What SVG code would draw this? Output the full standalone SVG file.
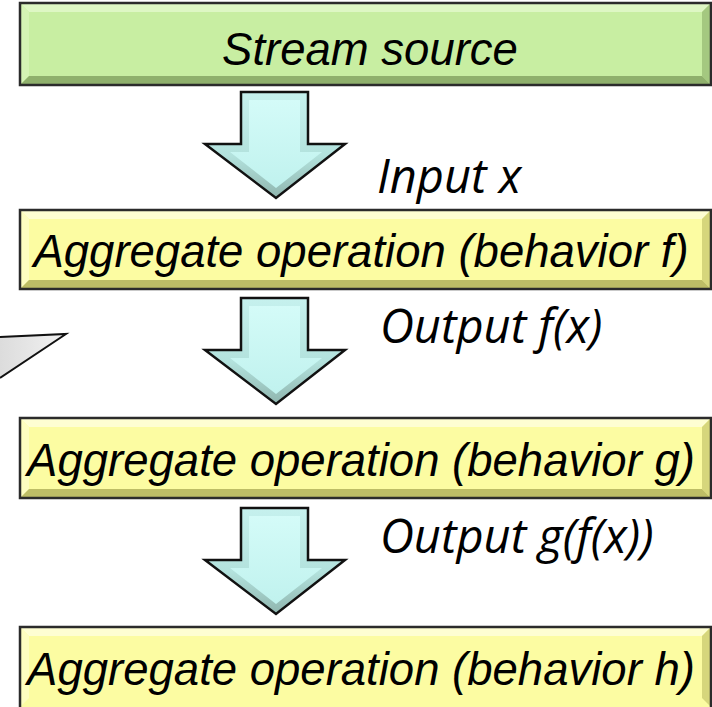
<svg xmlns="http://www.w3.org/2000/svg" width="712" height="707" viewBox="0 0 712 707">
<style>
.frame{fill:none;stroke:#2b2b2b;stroke-width:2.5}
.g-face{fill:#c8eea2}.g-top{fill:#def7c4}.g-left{fill:#d4f3b4}.g-right{fill:#a4c880}.g-bot{fill:#8fb06c}
.y-face{fill:#fcfca2}.y-top{fill:#fefed2}.y-left{fill:#fdfdc0}.y-right{fill:#d6d67c}.y-bot{fill:#bdbd66}
.btxt{font-family:"Liberation Sans",Arial,sans-serif;font-style:italic;font-size:45.5px;fill:#000;text-anchor:middle}
.ltxt{font-family:"Open Sans","Noto Sans",sans-serif;font-style:italic;font-size:47px;fill:#000}
.arr-out{fill:url(#arro);stroke:#111;stroke-width:2.5;stroke-linejoin:miter}
.arr-in{fill:url(#arrg)}
</style>
<defs>
<linearGradient id="arrg" x1="0" y1="0" x2="0" y2="1">
<stop offset="0" stop-color="#d4fbf8"/>
<stop offset="1" stop-color="#c0f2ee"/>
</linearGradient>
<linearGradient id="arro" x1="0" y1="0" x2="0" y2="1">
<stop offset="0" stop-color="#c6f1ee"/>
<stop offset="0.6" stop-color="#b3e2dd"/>
<stop offset="1" stop-color="#8fb5ae"/>
</linearGradient>
<linearGradient id="callg" x1="1" y1="0" x2="0" y2="0">
<stop offset="0" stop-color="#f2f2f2"/>
<stop offset="1" stop-color="#dcdcdc"/>
</linearGradient>
<g id="arrow">
<polygon class="arr-out" points="241,0 308,0 308,52 345,52 276,106 205,52 241,52"/>
<polygon class="arr-in" points="249,8 300,8 300,60 322,60 276,96 230,60 249,60"/>
</g>
</defs>

<g id="callout">
<polygon points="0,337 66,334 0,378" fill="url(#callg)"/>
<polyline points="0,337 66,334 0,378" fill="none" stroke="#111" stroke-width="2"/>
</g>

<g id="stream-source">
<rect x="20" y="3" width="691" height="82" class="g-face"/>
<polygon class="g-top" points="20,3 711,3 702,12 29,12"/>
<polygon class="g-left" points="20,3 29,12 29,76 20,85"/>
<polygon class="g-right" points="711,3 711,85 702,76 702,12"/>
<polygon class="g-bot" points="20,85 29,76 702,76 711,85"/>
<rect x="20" y="3" width="691" height="82" class="frame"/>
<text x="370" y="65" class="btxt">Stream source</text>
</g>

<g id="op-f">
<rect x="20" y="210" width="691" height="79" class="y-face"/>
<polygon class="y-top" points="20,210 711,210 702,219 29,219"/>
<polygon class="y-left" points="20,210 29,219 29,280 20,289"/>
<polygon class="y-right" points="711,210 711,289 702,280 702,219"/>
<polygon class="y-bot" points="20,289 29,280 702,280 711,289"/>
<rect x="20" y="210" width="691" height="79" class="frame"/>
<text x="361" y="267" class="btxt">Aggregate operation (behavior f)</text>
</g>

<g id="op-g">
<rect x="20" y="418" width="691" height="80" class="y-face"/>
<polygon class="y-top" points="20,418 711,418 702,427 29,427"/>
<polygon class="y-left" points="20,418 29,427 29,489 20,498"/>
<polygon class="y-right" points="711,418 711,498 702,489 702,427"/>
<polygon class="y-bot" points="20,498 29,489 702,489 711,498"/>
<rect x="20" y="418" width="691" height="80" class="frame"/>
<text x="361" y="476" class="btxt">Aggregate operation (behavior g)</text>
</g>

<g id="op-h">
<rect x="20" y="627" width="691" height="80" class="y-face"/>
<polygon class="y-top" points="20,627 711,627 702,636 29,636"/>
<polygon class="y-left" points="20,627 29,636 29,698 20,707"/>
<polygon class="y-right" points="711,627 711,707 702,698 702,636"/>
<rect x="20" y="627" width="691" height="82" class="frame"/>
<text x="361" y="685" class="btxt">Aggregate operation (behavior h)</text>
</g>

<g id="connectors">
<use href="#arrow" transform="translate(0,92)"/>
<use href="#arrow" transform="translate(0,298)"/>
<use href="#arrow" transform="translate(0,508)"/>
<text x="377" y="193" class="ltxt">Input x</text>
<text x="380" y="343" class="ltxt">Output f(x)</text>
<text x="380" y="553" class="ltxt">Output g(f(x))</text>
</g>
</svg>
